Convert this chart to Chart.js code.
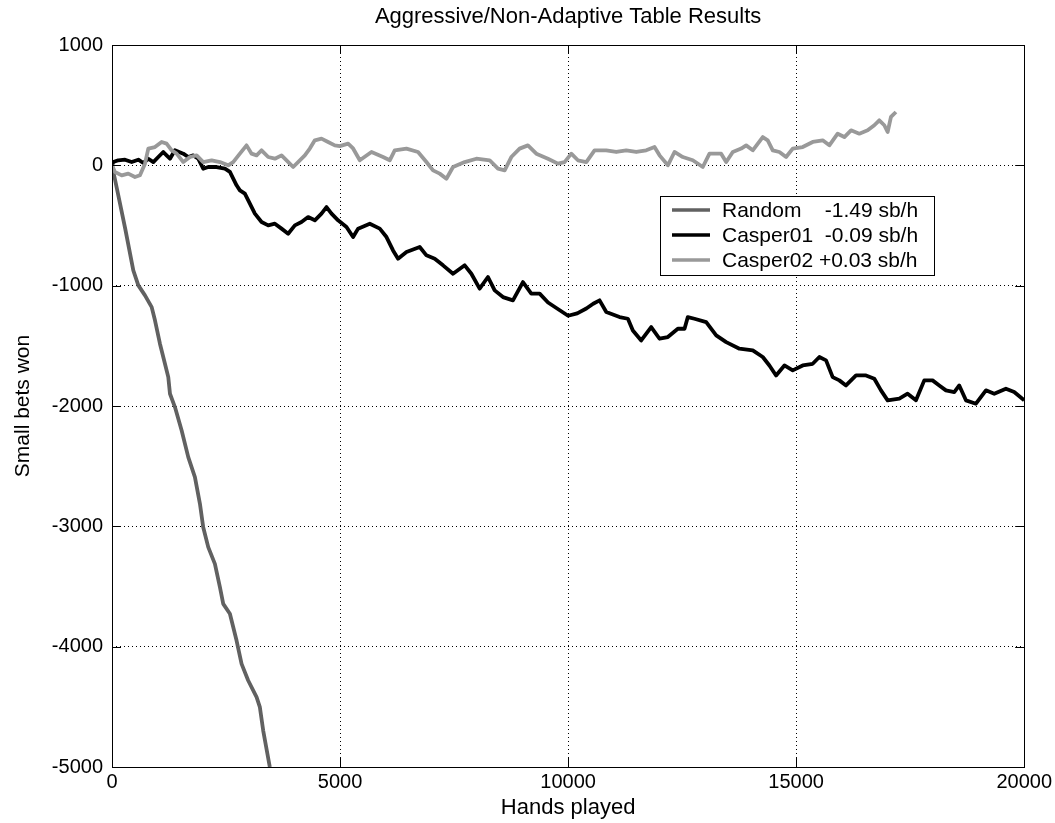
<!DOCTYPE html>
<html><head><meta charset="utf-8">
<script src="https://cdn.jsdelivr.net/npm/chart.js@4.4.1/dist/chart.umd.min.js"></script>
<style>html,body{margin:0;padding:0;background:#fff}canvas{display:block}</style>
</head><body>
<canvas id="c" width="1055" height="823"></canvas>
<script>
const chartTitle = 'Aggressive/Non-Adaptive Table Results';
const xTitle = 'Hands played';
const yTitle = 'Small bets won';
const xTicks = [0, 5000, 10000, 15000, 20000];
const yTicks = [1000, 0, -1000, -2000, -3000, -4000, -5000];
const seriesLabels = ['Random    -1.49 sb/h', 'Casper01  -0.09 sb/h', 'Casper02 +0.03 sb/h'];

const randomHands = [0,110,290,467,577,723,870,942,1051,1161,1234,1271,1380,1527,1672,1818,1928,2000,2110,2256,2366,2439,2585,2731,2841,2986,3170,3242,3315,3460];
const randomWon   = [0,-198,-527,-873,-998,-1081,-1178,-1288,-1482,-1649,-1760,-1898,-2009,-2203,-2425,-2591,-2813,-3007,-3173,-3312,-3506,-3644,-3727,-3949,-4143,-4281,-4420,-4503,-4697,-5000];

const casper01Hands = [0,28,138,285,431,577,687,796,906,1015,1124,1197,1271,1380,1563,1672,1781,1891,2000,2110,2293,2475,2585,2731,2804,2913,3023,3133,3279,3425,3571,3717,3862,4009,4155,4300,4447,4593,4703,4813,4957,5141,5286,5396,5652,5871,6018,6162,6272,6456,6747,6894,7076,7258,7477,7733,7879,8061,8243,8390,8572,8791,9010,9193,9376,9560,9800,10000,10200,10400,10550,10690,10837,11128,11311,11420,11603,11822,12005,12187,12406,12553,12625,12771,13028,13247,13466,13757,14049,14268,14414,14560,14743,14925,15144,15363,15509,15656,15801,15947,16093,16313,16532,16714,16860,17006,17262,17444,17627,17809,17991,18138,18284,18467,18576,18723,18942,19161,19343,19599,19781,20000];
const casper01Won   = [0,27,42,47,27,47,19,55,27,69,111,83,55,125,97,69,83,55,-28,-14,-14,-28,-55,-166,-208,-235,-318,-401,-471,-499,-485,-526,-568,-499,-471,-430,-457,-401,-347,-401,-457,-513,-596,-526,-485,-526,-596,-707,-776,-721,-679,-748,-776,-831,-901,-831,-901,-1025,-928,-1039,-1095,-1122,-970,-1066,-1066,-1140,-1200,-1250,-1230,-1190,-1150,-1122,-1219,-1261,-1275,-1372,-1455,-1344,-1441,-1427,-1358,-1358,-1261,-1275,-1303,-1413,-1469,-1524,-1538,-1593,-1663,-1746,-1663,-1704,-1663,-1649,-1593,-1621,-1760,-1787,-1829,-1746,-1746,-1773,-1870,-1953,-1939,-1898,-1953,-1787,-1787,-1829,-1870,-1884,-1829,-1953,-1981,-1870,-1898,-1856,-1884,-1953];

const casper02Hands = [0,66,212,357,504,613,723,796,942,1088,1197,1308,1417,1563,1709,1855,2000,2184,2366,2548,2657,2804,2950,3060,3170,3279,3425,3571,3717,3827,3972,4228,4337,4447,4593,4738,4885,4995,5177,5286,5433,5689,5943,6090,6199,6456,6710,6894,7039,7185,7332,7477,7733,7989,8280,8462,8609,8755,8937,9119,9303,9558,9777,9923,10070,10215,10399,10580,10837,11056,11275,11494,11713,11895,12005,12187,12333,12515,12734,12953,13100,13356,13466,13611,13795,13904,14049,14268,14377,14487,14633,14779,14925,15144,15363,15582,15728,15910,16057,16203,16385,16568,16714,16823,16933,17006,17079,17188];
const casper02Won   = [0,-55,-83,-69,-97,-83,14,139,152,194,180,125,97,27,69,83,27,42,27,0,27,97,166,97,83,125,69,55,83,42,-14,83,139,208,222,194,166,160,180,140,42,111,69,42,125,139,111,27,-42,-69,-111,-14,27,55,42,-28,-42,69,139,166,97,55,14,27,97,42,27,125,125,111,125,111,125,152,83,0,111,69,42,-14,97,97,27,111,139,166,125,235,208,125,111,69,139,152,194,208,166,263,235,291,263,291,333,374,333,277,402,443];

const FONT = "'Liberation Sans', Arial, Helvetica, sans-serif";
Chart.defaults.font.family = FONT;
Chart.defaults.color = '#000';

function pts(xs, ys){ return xs.map((x,i)=>({x:x, y:ys[i]})); }

const framePlugin = {
  id: 'frame',
  afterDatasetsDraw(chart){
    const {ctx, chartArea:a, scales:{x, y}} = chart;
    ctx.save();
    ctx.strokeStyle = '#000';
    ctx.lineWidth = 1;
    ctx.beginPath();
    const T = 9;
    xTicks.forEach(v=>{
      const px = Math.round(x.getPixelForValue(v))+0.5;
      ctx.moveTo(px, a.bottom); ctx.lineTo(px, a.bottom - T);
      ctx.moveTo(px, a.top); ctx.lineTo(px, a.top + T);
    });
    yTicks.forEach(v=>{
      const py = Math.round(y.getPixelForValue(v))+0.5;
      ctx.moveTo(a.left, py); ctx.lineTo(a.left + T, py);
      ctx.moveTo(a.right, py); ctx.lineTo(a.right - T, py);
    });
    ctx.stroke();
    ctx.strokeRect(Math.round(a.left)+0.5, Math.round(a.top)+0.5, Math.round(a.right-a.left), Math.round(a.bottom-a.top));

    // title, centred over the plot area
    ctx.fillStyle = '#000';
    ctx.font = '22px ' + FONT;
    ctx.textAlign = 'center';
    ctx.textBaseline = 'middle';
    ctx.fillText(chartTitle, (a.left + a.right) / 2, 17);

    // legend
    const L = {x:660.5, y:196.5, w:274, h:79};
    ctx.fillStyle = '#fff';
    ctx.fillRect(L.x, L.y, L.w, L.h);
    ctx.strokeRect(L.x, L.y, L.w, L.h);
    ctx.font = '21px ' + FONT;
    ctx.textBaseline = 'middle';
    ctx.textAlign = 'left';
    chart.data.datasets.forEach((ds, i)=>{
      const ry = 210 + i*25;
      ctx.strokeStyle = ds.borderColor;
      ctx.lineWidth = 3.5;
      ctx.beginPath(); ctx.moveTo(672, ry); ctx.lineTo(710, ry); ctx.stroke();
      ctx.fillStyle = '#000';
      ctx.fillText(ds.label, 722, ry + 1);
    });
    ctx.restore();
  }
};

new Chart(document.getElementById('c'), {
  type: 'line',
  data: {
    datasets: [
      {label: seriesLabels[0], data: pts(randomHands, randomWon), borderColor: '#616161', borderWidth: 3.8, order: 2},
      {label: seriesLabels[1], data: pts(casper01Hands, casper01Won), borderColor: '#000000', borderWidth: 3.8, order: 1},
      {label: seriesLabels[2], data: pts(casper02Hands, casper02Won), borderColor: '#999999', borderWidth: 3.8, order: 0}
    ]
  },
  options: {
    responsive: false,
    animation: false,
    events: [],
    elements: { point: {radius: 0}, line: {tension: 0, borderJoinStyle: 'round', borderCapStyle: 'butt'} },
    layout: { padding: {left: 0, right: 30, top: 45, bottom: 0} },
    plugins: {
      legend: {display: false},
      tooltip: {enabled: false},
      title: {display: false}
    },
    scales: {
      x: {
        type: 'linear', min: 0, max: 20000,
        afterBuildTicks: s => { s.ticks = xTicks.map(v=>({value:v})); },
        afterFit: s => { s.height = 56; },
        ticks: {font: {size: 20}, color: '#000', padding: 3, maxRotation: 0, autoSkip: false, callback: v => String(v)},
        grid: {color: '#000', lineWidth: 1, drawTicks: false},
        border: {display: false, dash: [1, 3]},
        title: {display: true, text: xTitle, font: {size: 22}, color: '#000', padding: {top: 0, bottom: 2}}
      },
      y: {
        type: 'linear', min: -5000, max: 1000,
        afterBuildTicks: s => { s.ticks = yTicks.map(v=>({value:v})); },
        afterFit: s => { s.width = 112; },
        ticks: {font: {size: 20}, color: '#000', padding: 9, autoSkip: false, callback: v => String(v)},
        grid: {color: '#000', lineWidth: 1, drawTicks: false},
        border: {display: false, dash: [1, 3]},
        title: {display: true, text: yTitle, font: {size: 21}, color: '#000', padding: {top: 11, bottom: 0}}
      }
    }
  },
  plugins: [framePlugin]
});
</script>
</body></html>
